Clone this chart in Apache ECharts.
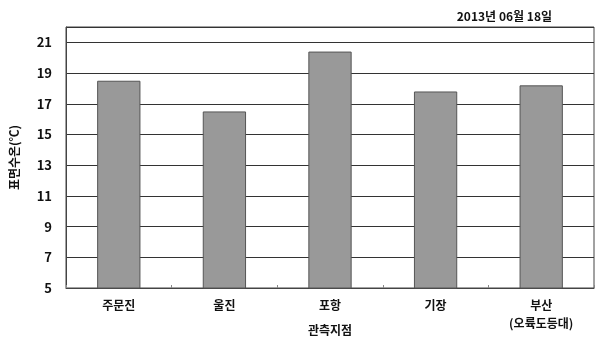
<!DOCTYPE html>
<html><head><meta charset="utf-8">
<script src="https://cdn.jsdelivr.net/npm/echarts@6/dist/echarts.min.js"></script>
<style>html,body{margin:0;padding:0;background:#fff}#c{width:601px;height:341px}</style>
</head><body><div id="c"></div>
<script>
const categories = ['주문진', '울진', '포항', '기장', '부산\n(오륙도등대)'];
const values = [18.5, 16.5, 20.4, 17.8, 18.2];
const yTicks = [5, 7, 9, 11, 13, 15, 17, 19, 21];
const dateText = '2013년 06월 18일';
const FONT = '"Noto Sans CJK KR", sans-serif';
const chart = echarts.init(document.getElementById('c'));
chart.setOption({
  animation: false,
  title: {text: dateText, right: 44, top: 5, textStyle: {fontFamily: FONT, fontSize: 12, fontWeight: 'bold', color: '#111'}},
  grid: {left: 66, right: 7, top: 27, bottom: 53, show: true, borderColor: '#444', borderWidth: 1,
    containLabel: false, outerBoundsMode: 'none'},
  xAxis: {
    type: 'category', data: categories,
    name: '관측지점', nameLocation: 'middle', nameGap: 36, nameMoveOverlap: false,
    nameTextStyle: {fontFamily: FONT, fontSize: 12, fontWeight: 'bold', color: '#111'},
    axisLine: {lineStyle: {color: '#444'}},
    axisTick: {show: true, inside: true, length: 3, lineStyle: {color: '#888'}},
    axisLabel: {fontFamily: FONT, fontSize: 12, fontWeight: 'bold', color: '#111', margin: 8, lineHeight: 18}
  },
  yAxis: {
    type: 'value', min: 5, max: 22, interval: 2,
    name: '표면수온(℃)', nameLocation: 'middle', nameGap: 46, nameMoveOverlap: false,
    nameTextStyle: {fontFamily: FONT, fontSize: 12, fontWeight: 'bold', color: '#111'},
    axisLine: {show: true, lineStyle: {color: '#444'}},
    axisTick: {show: false},
    splitLine: {lineStyle: {color: '#333', width: 1}},
    axisLabel: {fontFamily: FONT, fontSize: 13, fontWeight: 'bold', color: '#111', margin: 14,
      formatter: v => yTicks.includes(v) ? String(v) : ''}
  },
  series: [{
    type: 'bar', data: values, barWidth: '41%',
    itemStyle: {color: '#999999', borderColor: '#555', borderWidth: 1}
  }]
});
</script></body></html>
